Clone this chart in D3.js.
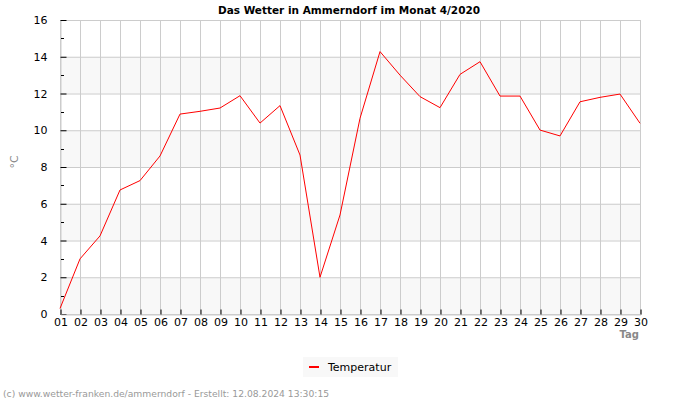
<!DOCTYPE html>
<html>
<head>
<meta charset="utf-8">
<script src="https://cdn.jsdelivr.net/npm/d3@7"></script>
<style>
  body { margin: 0; background: #fff; }
  text { font-family: "DejaVu Sans", sans-serif; }
</style>
</head>
<body>
<div id="chart-area"></div>
<script>
// Data: Temperatur je Tag, April 2020
var days = ["01","02","03","04","05","06","07","08","09","10",
            "11","12","13","14","15","16","17","18","19","20",
            "21","22","23","24","25","26","27","28","29","30"];
var temperatur = [0.3, 3.0, 4.25, 6.75, 7.26, 8.6, 10.88, 11.03, 11.21, 11.88,
                  10.39, 11.34, 8.65, 2.0, 5.39, 10.65, 14.28, 13.0, 11.83, 11.23,
                  13.04, 13.73, 11.86, 11.86, 10.01, 9.69, 11.55, 11.79, 11.97, 10.38];
var yTicks = [0, 2, 4, 6, 8, 10, 12, 14, 16];
var yMinor = [1, 3, 5, 7, 9, 11, 13, 15];

var margin = { left: 60, right: 60, top: 20, bottom: 86 };
var width = 700 - margin.left - margin.right,
    height = 400 - margin.top - margin.bottom;

var svg = d3.select("#chart-area")
    .append("svg")
        .attr("width", 700)
        .attr("height", 400);

var g = svg.append("g")
    .attr("transform", "translate(" + margin.left + ", " + margin.top + ")");

// Scales
var x = d3.scalePoint()
    .domain(days)
    .range([0, width]);

var y = d3.scaleLinear()
    .domain([0, 16])
    .range([height, 0]);

// Background bands (alternating)
g.selectAll("rect.band")
    .data(yTicks.slice(0, -1).filter(function(d, i){ return i % 2 == 0; }))
    .enter().append("rect")
        .attr("class", "band")
        .attr("x", 0)
        .attr("y", function(d){ return y(d + 2); })
        .attr("width", width)
        .attr("height", function(d){ return y(d) - y(d + 2); })
        .attr("fill", "#f8f8f8");

// Grid lines
g.selectAll("line.hgrid")
    .data(yTicks)
    .enter().append("line")
        .attr("x1", 0).attr("x2", width)
        .attr("y1", function(d){ return y(d) + 0.5; })
        .attr("y2", function(d){ return y(d) + 0.5; })
        .attr("stroke", "#cccccc");

g.selectAll("line.vgrid")
    .data(days)
    .enter().append("line")
        .attr("x1", function(d){ return x(d) + 0.5; })
        .attr("x2", function(d){ return x(d) + 0.5; })
        .attr("y1", 0).attr("y2", height)
        .attr("stroke", "#cccccc");

// Y axis (ticks pointing inwards)
var yAxisGroup = g.append("g")
    .attr("class", "y axis")
    .attr("transform", "translate(0.5,0)")
    .call(d3.axisLeft(y).tickValues(yTicks).tickSize(-6).tickPadding(13));
yAxisGroup.select(".domain").attr("stroke", "#cccccc");
yAxisGroup.selectAll("text").attr("font-size", "11px").attr("fill", "#000");

// minor ticks
g.selectAll("line.minor")
    .data(yMinor)
    .enter().append("line")
        .attr("x1", 1).attr("x2", 4)
        .attr("y1", function(d){ return Math.round(y(d)) + 0.5; })
        .attr("y2", function(d){ return Math.round(y(d)) + 0.5; })
        .attr("stroke", "#000");

// X axis (ticks pointing inwards)
var xAxisGroup = g.append("g")
    .attr("class", "x axis")
    .attr("transform", "translate(0.5," + (height + 0.5) + ")")
    .call(d3.axisBottom(x).tickSize(-5).tickPadding(4));
xAxisGroup.select(".domain").attr("stroke", "#cccccc");
xAxisGroup.selectAll("text").attr("font-size", "11px").attr("fill", "#000");

// Line
var line = d3.line()
    .x(function(d, i){ return x(days[i]); })
    .y(function(d){ return y(d); });

g.append("path")
    .datum(temperatur)
    .attr("d", line)
    .attr("fill", "none")
    .attr("stroke", "#ff0000")
    .attr("stroke-width", 1);

// Title
svg.append("text")
    .attr("x", 349)
    .attr("y", 14)
    .attr("text-anchor", "middle")
    .attr("font-size", "10.5px")
    .attr("font-weight", "bold")
    .text("Das Wetter in Ammerndorf im Monat 4/2020");

// Y Label
svg.append("text")
    .attr("transform", "translate(18,162) rotate(-90)")
    .attr("text-anchor", "middle")
    .attr("font-size", "11px")
    .attr("fill", "#888")
    .text("°C");

// X Label
svg.append("text")
    .attr("x", 639)
    .attr("y", 338)
    .attr("text-anchor", "end")
    .attr("font-size", "10px")
    .attr("font-weight", "bold")
    .attr("fill", "#888")
    .text("Tag");

// Legend
var legend = svg.append("g").attr("transform", "translate(303,357)");
legend.append("rect")
    .attr("width", 95).attr("height", 20)
    .attr("fill", "#f8f8f8");
legend.append("line")
    .attr("x1", 6).attr("x2", 16)
    .attr("y1", 10).attr("y2", 10)
    .attr("stroke", "#ff0000").attr("stroke-width", 2);
legend.append("text")
    .attr("x", 25).attr("y", 14)
    .attr("font-size", "11px")
    .text("Temperatur");

// Footer
svg.append("text")
    .attr("x", 3)
    .attr("y", 397)
    .attr("font-size", "9.2px")
    .attr("fill", "#999")
    .text("(c) www.wetter-franken.de/ammerndorf - Erstellt: 12.08.2024 13:30:15");
</script>
</body>
</html>
